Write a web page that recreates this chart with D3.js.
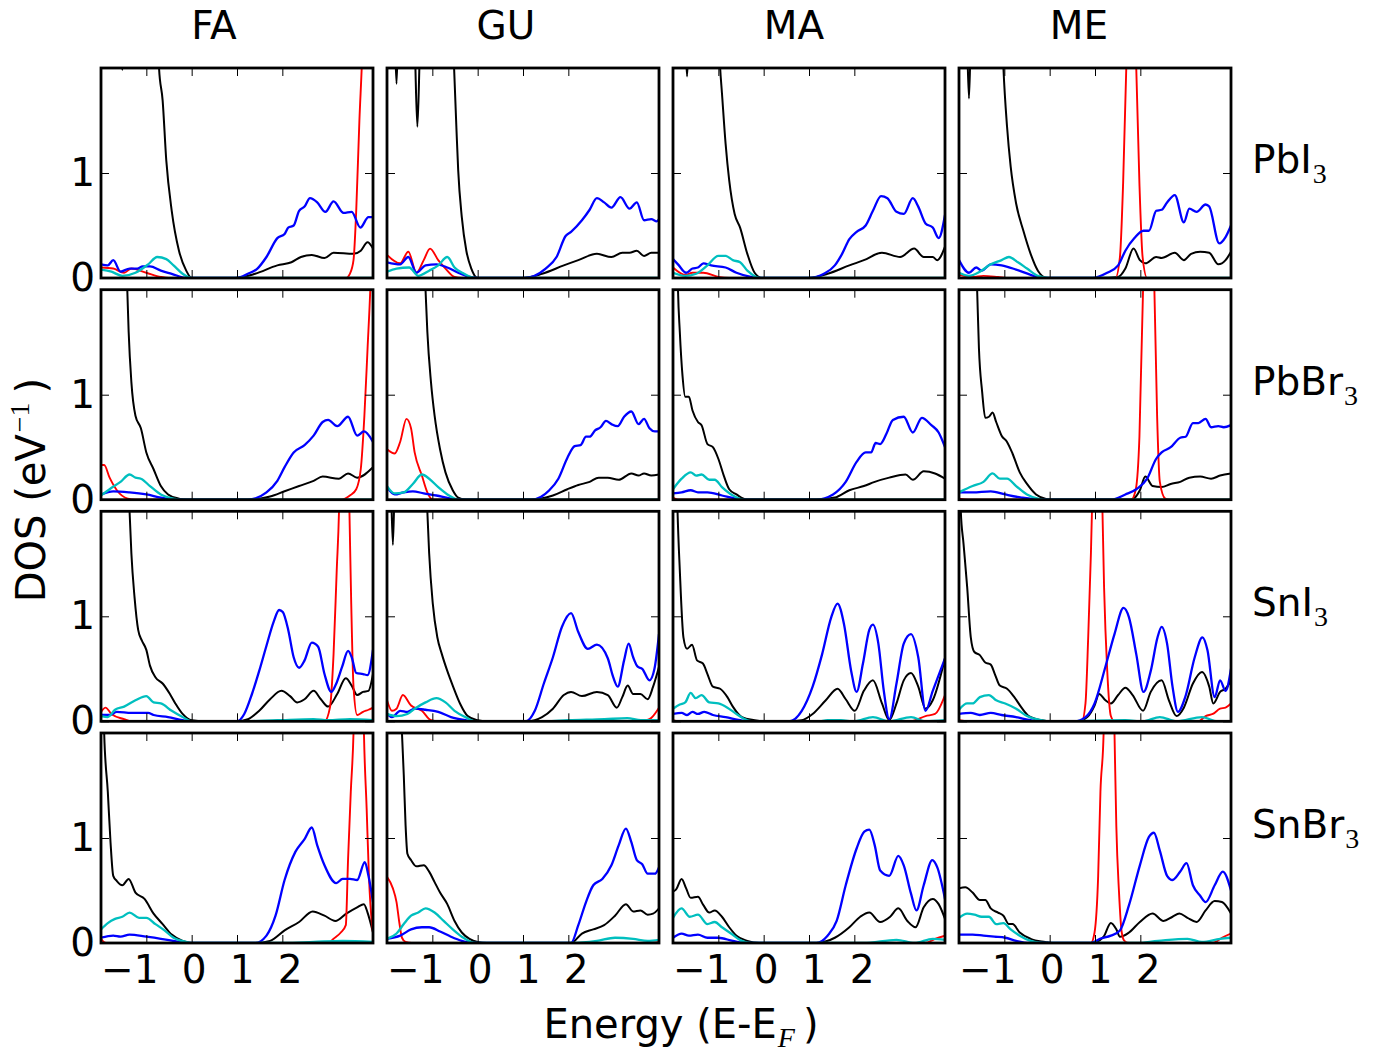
<!DOCTYPE html>
<html>
<head>
<meta charset="utf-8">
<script src="https://cdn.jsdelivr.net/npm/d3@7"></script>
<style>
  body { margin: 0; background: #fff; }
  text { font-family: "DejaVu Sans", sans-serif; }
</style>
</head>
<body>
<script>

// rows = compounds, columns = cations
var rowNames = ['PbI', 'PbBr', 'SnI', 'SnBr'],
  colNames = ['FA', 'GU', 'MA', 'ME'],
  xTicks = [-1, 0, 1, 2],
  yTicks = [0, 1]

// [energy, DOS] per curve; k = black, r = red, b = blue, c = cyan
var PbI3_FA_k = [[-2,3.5],[-1.6,2.6],[-1.53,1.98],[-1.46,2.6],[-0.8,3.0],[-0.72,2.0],[-0.64,1.69],[-0.56,1.12],[-0.44,0.64],[-0.28,0.26],[-0.12,0.07],[0,0],[0.95,0],[1.4,0.04],[1.89,0.12],[2.2,0.15],[2.41,0.2],[2.65,0.22],[2.93,0.19],[3.13,0.24],[3.57,0.23],[3.73,0.26],[3.88,0.34],[4,0.28]]
var PbI3_FA_b = [[-2,0.13],[-1.85,0.12],[-1.73,0.17],[-1.57,0.06],[-1.37,0.09],[-1.2,0.09],[-1.08,0.11],[-0.92,0.11],[-0.68,0.07],[-0.44,0.04],[-0.12,0],[1.0,0],[1.24,0.04],[1.45,0.09],[1.65,0.2],[1.89,0.38],[2.05,0.42],[2.13,0.48],[2.25,0.5],[2.37,0.64],[2.49,0.68],[2.61,0.76],[2.77,0.72],[2.95,0.63],[3.13,0.73],[3.35,0.62],[3.53,0.63],[3.72,0.48],[3.9,0.58],[4,0.58]]
var PbI3_FA_c = [[-2,0.08],[-1.77,0.06],[-1.53,0.02],[-1.24,0.05],[-0.96,0.13],[-0.76,0.2],[-0.56,0.18],[-0.4,0.12],[-0.2,0.04],[0,0],[4,0]]
var PbI3_FA_r = [[-2,0.1],[-1.73,0.09],[-1.49,0.05],[-1.33,0.09],[-1.0,0.05],[-0.68,0.01],[-0.5,0],[3.4,0],[3.49,0.04],[3.57,0.17],[3.63,0.64],[3.7,1.5],[3.76,2.1],[3.85,3.5],[4,5]]

var PbI3_GU_k = [[-2,3.5],[-1.84,2.5],[-1.79,1.85],[-1.74,2.5],[-1.4,2.3],[-1.33,1.44],[-1.26,2.3],[-0.6,3.0],[-0.52,2.0],[-0.47,1.44],[-0.43,1.03],[-0.35,0.58],[-0.25,0.26],[-0.14,0.09],[0,0],[1.0,0],[1.42,0.04],[1.9,0.12],[2.22,0.17],[2.63,0.23],[2.95,0.2],[3.19,0.24],[3.35,0.24],[3.51,0.26],[3.67,0.21],[3.83,0.24],[4,0.24]]
var PbI3_GU_b = [[-2,0.15],[-1.71,0.13],[-1.53,0.2],[-1.35,0.05],[-1.15,0.12],[-0.91,0.13],[-0.67,0.1],[-0.43,0.05],[-0.18,0.01],[0,0],[1.02,0],[1.5,0.09],[1.74,0.2],[1.94,0.4],[2.06,0.44],[2.3,0.55],[2.47,0.65],[2.63,0.76],[2.79,0.72],[2.95,0.67],[3.15,0.77],[3.35,0.66],[3.51,0.72],[3.67,0.55],[3.83,0.56],[3.95,0.54],[4,0.56]]
var PbI3_GU_c = [[-2,0.06],[-1.79,0.09],[-1.51,0.1],[-1.31,0.02],[-1.07,0.07],[-0.87,0.12],[-0.67,0.2],[-0.51,0.1],[-0.3,0.04],[-0.06,0],[4,0]]
var PbI3_GU_r = [[-2,0.22],[-1.71,0.14],[-1.53,0.25],[-1.35,0.05],[-1.19,0.17],[-1.05,0.28],[-0.87,0.17],[-0.71,0.09],[-0.51,0.01],[-0.35,0],[4,0]]

var PbI3_MA_k = [[-2,3.5],[-1.74,2.4],[-1.69,1.92],[-1.64,2.4],[-1.05,3.0],[-0.96,2.0],[-0.92,1.76],[-0.84,1.28],[-0.76,0.93],[-0.64,0.61],[-0.52,0.48],[-0.36,0.23],[-0.2,0.05],[-0.04,0],[1.0,0],[1.41,0.04],[1.89,0.12],[2.21,0.17],[2.61,0.24],[3.01,0.2],[3.32,0.28],[3.53,0.2],[3.73,0.2],[3.83,0.17],[4,0.3]]
var PbI3_MA_b = [[-2,0.18],[-1.89,0.13],[-1.71,0.05],[-1.57,0.09],[-1.45,0.1],[-1.33,0.14],[-1.16,0.12],[-0.84,0.1],[-0.6,0.05],[-0.28,0.01],[-0.1,0],[1.0,0],[1.33,0.04],[1.57,0.12],[1.73,0.23],[1.89,0.37],[2.05,0.44],[2.25,0.5],[2.41,0.64],[2.59,0.78],[2.73,0.76],[2.93,0.63],[3.09,0.61],[3.29,0.76],[3.41,0.68],[3.57,0.52],[3.73,0.48],[3.86,0.38],[4,0.6]]
var PbI3_MA_c = [[-2,0.05],[-1.73,0.02],[-1.49,0.04],[-1.24,0.12],[-1.0,0.21],[-0.84,0.21],[-0.68,0.17],[-0.52,0.15],[-0.36,0.07],[-0.16,0.01],[-0.04,0],[4,0]]
var PbI3_MA_r = [[-2,0.1],[-1.73,0.03],[-1.57,0.05],[-1.33,0.05],[-1.0,0.01],[-0.76,0],[4,0]]

var PbI3_ME_k = [[-2,3.5],[-1.83,2.4],[-1.78,1.71],[-1.73,2.4],[-1.1,3.0],[-1.02,2.0],[-0.94,1.44],[-0.86,1.06],[-0.74,0.71],[-0.58,0.45],[-0.42,0.23],[-0.26,0.07],[-0.06,0],[1.11,0],[1.51,0.01],[1.67,0.09],[1.85,0.28],[1.99,0.17],[2.11,0.14],[2.35,0.2],[2.47,0.19],[2.76,0.24],[2.96,0.17],[3.12,0.23],[3.32,0.25],[3.52,0.24],[3.72,0.13],[3.88,0.17],[4,0.25]]
var PbI3_ME_b = [[-2,0.17],[-1.78,0.05],[-1.62,0.1],[-1.5,0.07],[-1.3,0.13],[-1.06,0.12],[-0.74,0.08],[-0.42,0.03],[-0.18,0],[0.95,0],[1.27,0.05],[1.51,0.12],[1.67,0.26],[1.87,0.38],[2.07,0.45],[2.19,0.45],[2.35,0.64],[2.47,0.65],[2.59,0.72],[2.76,0.79],[2.96,0.53],[3.08,0.66],[3.24,0.63],[3.44,0.7],[3.52,0.68],[3.74,0.33],[3.88,0.39],[4,0.5]]
var PbI3_ME_c = [[-2,0.05],[-1.78,0.02],[-1.54,0.06],[-1.3,0.13],[-1.06,0.17],[-0.9,0.2],[-0.7,0.15],[-0.5,0.09],[-0.26,0.02],[0,0],[4,0]]
var PbI3_ME_r = [[-2,0.03],[-1.7,0.01],[-1.46,0.02],[-1.14,0.01],[-0.9,0],[1.45,0],[1.55,0.2],[1.62,0.9],[1.69,2.0],[1.75,3.5],[1.8,4.2],[1.85,3.5],[1.91,2.0],[1.98,0.9],[2.05,0.2],[2.15,0],[4,0]]

var PbBr3_FA_k = [[-2,5],[-1.5,3.0],[-1.42,2.0],[-1.39,1.6],[-1.33,1.12],[-1.24,0.8],[-1.12,0.68],[-1.0,0.45],[-0.84,0.29],[-0.68,0.13],[-0.52,0.05],[-0.28,0.01],[-0.1,0],[1.24,0],[1.73,0.03],[2.05,0.08],[2.37,0.13],[2.69,0.18],[2.89,0.22],[3.25,0.2],[3.45,0.25],[3.65,0.21],[4,0.31]]
var PbBr3_FA_b = [[-2,0.05],[-1.73,0.08],[-1.37,0.07],[-1.0,0.05],[-0.68,0.02],[-0.36,0],[1.24,0],[1.65,0.07],[1.89,0.18],[2.05,0.31],[2.25,0.45],[2.49,0.52],[2.69,0.61],[2.89,0.74],[3.01,0.76],[3.21,0.7],[3.45,0.79],[3.65,0.61],[3.8,0.65],[4,0.55]]
var PbBr3_FA_c = [[-2,0.04],[-1.81,0.1],[-1.57,0.17],[-1.37,0.24],[-1.24,0.21],[-1.12,0.2],[-0.92,0.13],[-0.68,0.05],[-0.4,0.01],[-0.28,0],[4,0]]
var PbBr3_FA_r = [[-2,0.33],[-1.93,0.33],[-1.81,0.21],[-1.65,0.09],[-1.41,0.01],[-1.25,0],[3.3,0],[3.49,0.04],[3.63,0.1],[3.73,0.29],[3.81,0.8],[3.88,1.44],[3.94,2.0],[4,2.8]]

var PbBr3_GU_k = [[-2,5],[-1.25,3.0],[-1.15,2.0],[-1.11,1.6],[-1.03,1.12],[-0.95,0.8],[-0.83,0.48],[-0.71,0.26],[-0.55,0.09],[-0.43,0.02],[-0.25,0],[1.18,0],[1.66,0.04],[1.98,0.1],[2.22,0.14],[2.47,0.17],[2.67,0.21],[2.87,0.21],[3.11,0.19],[3.39,0.25],[3.55,0.23],[3.67,0.25],[3.83,0.23],[4,0.24]]
var PbBr3_GU_b = [[-2,0.12],[-1.83,0.05],[-1.63,0.07],[-1.43,0.08],[-1.19,0.06],[-0.91,0.04],[-0.59,0.01],[-0.4,0],[1.18,0],[1.58,0.09],[1.78,0.2],[1.98,0.4],[2.14,0.51],[2.27,0.52],[2.39,0.6],[2.47,0.6],[2.59,0.66],[2.71,0.69],[2.83,0.75],[2.95,0.72],[3.09,0.7],[3.23,0.79],[3.39,0.84],[3.55,0.72],[3.67,0.77],[3.79,0.68],[3.91,0.65],[4,0.65]]
var PbBr3_GU_c = [[-2,0.13],[-1.83,0.06],[-1.63,0.07],[-1.43,0.15],[-1.23,0.24],[-1.07,0.2],[-0.87,0.12],[-0.63,0.04],[-0.43,0],[4,0]]
var PbBr3_GU_r = [[-2,0.48],[-1.83,0.44],[-1.71,0.55],[-1.57,0.77],[-1.47,0.68],[-1.39,0.45],[-1.23,0.23],[-1.11,0.07],[-0.99,0],[4,0]]

var PbBr3_MA_k = [[-2,5],[-1.93,3.0],[-1.89,2.0],[-1.85,1.6],[-1.79,1.18],[-1.73,0.98],[-1.65,0.98],[-1.57,0.85],[-1.45,0.74],[-1.37,0.71],[-1.24,0.53],[-1.12,0.5],[-1.0,0.39],[-0.88,0.23],[-0.76,0.1],[-0.6,0.05],[-0.36,0],[1.16,0],[1.57,0.02],[1.89,0.09],[2.21,0.13],[2.45,0.17],[2.77,0.21],[3.13,0.24],[3.29,0.19],[3.53,0.27],[3.78,0.25],[4,0.2]]
var PbBr3_MA_b = [[-2,0.06],[-1.81,0.07],[-1.61,0.09],[-1.45,0.07],[-1.24,0.07],[-0.92,0.04],[-0.6,0.01],[-0.44,0],[1.16,0],[1.53,0.05],[1.81,0.17],[2.05,0.36],[2.25,0.45],[2.37,0.45],[2.47,0.54],[2.57,0.53],[2.71,0.63],[2.85,0.76],[3.09,0.79],[3.29,0.64],[3.49,0.78],[3.7,0.71],[3.86,0.64],[4,0.5]]
var PbBr3_MA_c = [[-2,0.1],[-1.81,0.2],[-1.61,0.26],[-1.49,0.23],[-1.37,0.24],[-1.2,0.19],[-1.08,0.19],[-0.92,0.12],[-0.68,0.04],[-0.44,0],[4,0]]
var PbBr3_MA_r = [[-2,0.02],[-1.89,0],[4,0]]

var PbBr3_ME_k = [[-2,5],[-1.68,3.0],[-1.6,2.0],[-1.56,1.44],[-1.49,1.03],[-1.42,0.78],[-1.34,0.79],[-1.26,0.83],[-1.18,0.74],[-1.06,0.61],[-0.94,0.55],[-0.82,0.44],[-0.66,0.26],[-0.5,0.15],[-0.3,0.05],[-0.1,0.01],[0,0],[1.79,0],[1.99,0.09],[2.11,0.22],[2.27,0.13],[2.47,0.12],[2.67,0.15],[2.88,0.17],[3.08,0.21],[3.32,0.22],[3.56,0.2],[3.76,0.23],[4,0.25]]
var PbBr3_ME_b = [[-2,0.07],[-1.7,0.07],[-1.3,0.08],[-0.98,0.05],[-0.62,0.02],[-0.18,0],[1.35,0],[1.67,0.05],[1.91,0.1],[2.15,0.2],[2.35,0.39],[2.47,0.45],[2.67,0.5],[2.88,0.59],[3.0,0.6],[3.16,0.73],[3.28,0.73],[3.44,0.77],[3.56,0.69],[3.72,0.7],[3.84,0.69],[4,0.71]]
var PbBr3_ME_c = [[-2,0.07],[-1.7,0.13],[-1.46,0.17],[-1.26,0.25],[-1.1,0.2],[-0.94,0.2],[-0.74,0.13],[-0.5,0.05],[-0.26,0.01],[-0.14,0],[4,0]]
var PbBr3_ME_r = [[-2,0.01],[-1.8,0],[1.8,0],[1.9,0.1],[1.98,0.6],[2.06,2.0],[2.12,3.5],[2.18,4.0],[2.25,3.5],[2.31,2.0],[2.37,0.8],[2.43,0.17],[2.55,0.01],[2.65,0],[4,0]]

var SnI3_FA_k = [[-2,5],[-1.45,3.0],[-1.37,2.0],[-1.33,1.6],[-1.26,1.18],[-1.18,0.87],[-1.1,0.77],[-1.0,0.68],[-0.92,0.53],[-0.8,0.42],[-0.64,0.36],[-0.48,0.26],[-0.36,0.17],[-0.2,0.07],[0,0.01],[0.28,0],[1.0,0],[1.24,0.02],[1.49,0.1],[1.73,0.21],[1.98,0.29],[2.17,0.24],[2.33,0.18],[2.49,0.21],[2.69,0.29],[2.85,0.21],[3.01,0.14],[3.21,0.26],[3.4,0.41],[3.53,0.34],[3.65,0.25],[3.78,0.28],[3.9,0.29],[4,0.45]]
var SnI3_FA_b = [[-2,0.06],[-1.81,0.06],[-1.65,0.09],[-1.33,0.08],[-0.96,0.08],[-0.84,0.06],[-0.52,0.04],[-0.2,0.01],[-0.05,0],[1.0,0],[1.16,0.07],[1.33,0.26],[1.49,0.48],[1.65,0.72],[1.81,0.95],[1.93,1.06],[2.01,1.04],[2.13,0.87],[2.25,0.61],[2.37,0.51],[2.49,0.58],[2.65,0.75],[2.79,0.71],[2.93,0.45],[3.08,0.28],[3.17,0.34],[3.32,0.52],[3.45,0.67],[3.53,0.61],[3.63,0.46],[3.78,0.45],[3.88,0.44],[4,0.68]]
var SnI3_FA_c = [[-2,0.05],[-1.85,0.04],[-1.69,0.11],[-1.49,0.14],[-1.24,0.2],[-1.0,0.24],[-0.84,0.18],[-0.68,0.17],[-0.44,0.1],[-0.2,0.04],[0,0],[1.08,0],[1.89,0.01],[2.69,0.02],[3.01,0.01],[3.49,0.02],[4,0.01]]
var SnI3_FA_r = [[-2,0.09],[-1.9,0.13],[-1.77,0.07],[-1.49,0.02],[-1.33,0],[2.93,0],[3.05,0.13],[3.13,0.64],[3.2,1.44],[3.25,2.0],[3.3,3.2],[3.36,3.8],[3.42,3.2],[3.48,2.0],[3.52,1.12],[3.57,0.33],[3.65,0.06],[3.78,0.09],[3.9,0.11],[4,0.13]]

var SnI3_GU_k = [[-2,3.5],[-1.92,2.4],[-1.87,1.68],[-1.82,2.4],[-1.2,3.0],[-1.11,2.0],[-1.07,1.6],[-0.99,1.12],[-0.89,0.8],[-0.79,0.64],[-0.67,0.48],[-0.55,0.34],[-0.39,0.17],[-0.22,0.05],[0,0.01],[0.2,0],[1.1,0],[1.42,0.04],[1.66,0.12],[1.9,0.25],[2.06,0.28],[2.3,0.24],[2.63,0.28],[2.87,0.25],[3.07,0.13],[3.19,0.23],[3.31,0.34],[3.43,0.26],[3.59,0.26],[3.75,0.21],[3.87,0.33],[4,0.52]]
var SnI3_GU_b = [[-2,0.07],[-1.89,0.04],[-1.71,0.1],[-1.55,0.09],[-1.39,0.12],[-1.15,0.11],[-0.87,0.09],[-0.59,0.04],[-0.27,0.01],[-0.1,0],[1.06,0],[1.26,0.1],[1.46,0.36],[1.66,0.61],[1.86,0.9],[2.06,1.03],[2.22,0.85],[2.43,0.69],[2.63,0.73],[2.87,0.6],[2.99,0.42],[3.09,0.33],[3.23,0.58],[3.33,0.74],[3.43,0.61],[3.53,0.52],[3.63,0.5],[3.79,0.39],[3.9,0.5],[4,0.83]]
var SnI3_GU_c = [[-2,0.07],[-1.79,0.05],[-1.55,0.07],[-1.39,0.12],[-1.15,0.18],[-0.91,0.22],[-0.71,0.18],[-0.51,0.1],[-0.27,0.04],[-0.05,0],[1.5,0],[2.0,0.01],[2.8,0.02],[3.3,0.03],[3.6,0.01],[4,0.01]]
var SnI3_GU_r = [[-2,0.2],[-1.89,0.1],[-1.79,0.12],[-1.65,0.25],[-1.47,0.15],[-1.23,0.1],[-1.03,0.01],[-0.87,0],[3.6,0],[3.79,0.02],[4,0.13]]

var SnI3_MA_k = [[-2,5],[-1.95,3.0],[-1.9,2.0],[-1.85,1.44],[-1.77,0.8],[-1.69,0.69],[-1.58,0.73],[-1.47,0.58],[-1.34,0.55],[-1.24,0.45],[-1.12,0.33],[-0.96,0.31],[-0.8,0.23],[-0.68,0.14],[-0.48,0.04],[-0.2,0.01],[-0.04,0],[0.56,0],[0.84,0.01],[1.08,0.07],[1.37,0.2],[1.63,0.31],[1.81,0.21],[2.01,0.1],[2.21,0.29],[2.41,0.39],[2.61,0.17],[2.77,0.01],[2.93,0.17],[3.09,0.39],[3.25,0.46],[3.41,0.33],[3.57,0.12],[3.73,0.2],[4,0.6]]
var SnI3_MA_b = [[-2,0.07],[-1.81,0.08],[-1.69,0.06],[-1.57,0.09],[-1.45,0.07],[-1.31,0.09],[-1.12,0.06],[-0.84,0.04],[-0.52,0.01],[-0.36,0],[0.56,0],[0.84,0.1],[1.08,0.33],[1.29,0.64],[1.49,0.99],[1.63,1.12],[1.77,0.93],[1.93,0.48],[2.05,0.28],[2.19,0.55],[2.33,0.87],[2.41,0.92],[2.53,0.74],[2.65,0.29],[2.77,0.02],[2.93,0.36],[3.09,0.74],[3.25,0.83],[3.41,0.61],[3.57,0.1],[3.73,0.29],[4,0.6]]
var SnI3_MA_c = [[-2,0.12],[-1.85,0.16],[-1.73,0.18],[-1.61,0.27],[-1.5,0.22],[-1.37,0.25],[-1.2,0.18],[-1.0,0.17],[-0.8,0.13],[-0.6,0.07],[-0.36,0.01],[-0.2,0],[1.2,0],[1.41,0.01],[1.7,0.01],[2.0,0],[2.41,0.04],[2.77,0],[3.25,0.04],[3.57,0],[4,0.01]]
var SnI3_MA_r = [[-2,0.01],[-1.89,0],[3.25,0],[3.57,0.05],[3.78,0.07],[4,0.25]]

var SnI3_ME_k = [[-2,3.5],[-1.96,2.0],[-1.9,1.69],[-1.82,1.28],[-1.74,0.8],[-1.66,0.66],[-1.54,0.63],[-1.42,0.56],[-1.3,0.54],[-1.21,0.45],[-1.1,0.34],[-0.94,0.31],[-0.78,0.23],[-0.62,0.13],[-0.46,0.05],[-0.18,0.01],[0,0],[0.63,0],[0.83,0.04],[0.99,0.15],[1.09,0.26],[1.23,0.2],[1.35,0.17],[1.51,0.25],[1.67,0.32],[1.83,0.25],[2.06,0.1],[2.23,0.28],[2.47,0.39],[2.63,0.2],[2.8,0.05],[2.96,0.13],[3.16,0.36],[3.36,0.47],[3.52,0.33],[3.61,0.17],[3.76,0.28],[3.88,0.31],[4,0.39]]
var SnI3_ME_b = [[-2,0.07],[-1.74,0.08],[-1.54,0.06],[-1.3,0.08],[-1.06,0.06],[-0.74,0.04],[-0.42,0.01],[-0.2,0],[0.55,0],[0.79,0.04],[0.99,0.17],[1.23,0.52],[1.43,0.83],[1.63,1.08],[1.75,0.99],[1.91,0.64],[2.07,0.28],[2.23,0.48],[2.38,0.8],[2.47,0.9],[2.59,0.74],[2.71,0.33],[2.83,0.09],[2.99,0.23],[3.2,0.61],[3.37,0.8],[3.48,0.68],[3.64,0.23],[3.76,0.39],[3.88,0.29],[4,0.5]]
var SnI3_ME_c = [[-2,0.11],[-1.82,0.17],[-1.7,0.17],[-1.54,0.23],[-1.34,0.25],[-1.18,0.2],[-0.98,0.17],[-0.74,0.12],[-0.5,0.05],[-0.18,0.01],[0,0],[1.67,0.01],[2.06,0],[2.43,0.04],[2.8,0],[3.36,0.04],[3.7,0],[4,0]]
var SnI3_ME_r = [[-2,0.01],[-1.8,0],[0.71,0],[0.79,0.17],[0.85,0.8],[0.91,1.6],[0.95,2.3],[1.0,3.5],[1.05,3.8],[1.1,3.5],[1.15,2.3],[1.2,1.28],[1.27,0.48],[1.35,0.05],[1.43,0],[3.28,0],[3.44,0.05],[3.6,0.07],[3.76,0.12],[3.88,0.13],[4,0.17]]

var SnBr3_FA_k = [[-2,5],[-1.93,2.0],[-1.85,1.44],[-1.79,0.96],[-1.73,0.64],[-1.65,0.59],[-1.53,0.55],[-1.39,0.61],[-1.24,0.48],[-1.04,0.42],[-0.84,0.28],[-0.64,0.18],[-0.44,0.08],[-0.2,0.02],[0,0],[1.41,0],[1.73,0.02],[2.05,0.12],[2.37,0.2],[2.67,0.3],[2.93,0.26],[3.17,0.21],[3.41,0.28],[3.65,0.34],[3.8,0.37],[3.88,0.29],[4,0.1]]
var SnBr3_FA_b = [[-2,0.05],[-1.73,0.07],[-1.57,0.06],[-1.37,0.08],[-1.0,0.06],[-0.68,0.04],[-0.28,0.01],[-0.1,0],[1.41,0],[1.65,0.07],[1.85,0.26],[2.05,0.6],[2.29,0.87],[2.49,0.99],[2.65,1.1],[2.77,0.93],[2.93,0.74],[3.19,0.57],[3.33,0.61],[3.49,0.61],[3.65,0.6],[3.82,0.77],[3.9,0.64],[4,0.39]]
var SnBr3_FA_c = [[-2,0.13],[-1.85,0.19],[-1.69,0.23],[-1.53,0.25],[-1.37,0.29],[-1.16,0.24],[-1.0,0.24],[-0.8,0.18],[-0.6,0.12],[-0.4,0.05],[-0.12,0.01],[0,0],[2.05,0],[2.69,0.01],[3.33,0.02],[4,0.01]]
var SnBr3_FA_r = [[-2,0.04],[-1.89,0],[3.01,0],[3.13,0.04],[3.29,0.1],[3.4,0.17],[3.45,0.8],[3.51,1.44],[3.57,2.0],[3.63,3.3],[3.69,3.8],[3.75,3.3],[3.8,2.0],[3.86,1.28],[3.91,0.64],[3.98,0.17],[4,0.1]]

var SnBr3_GU_k = [[-2,5],[-1.75,3.0],[-1.67,2.0],[-1.63,1.6],[-1.59,1.12],[-1.55,0.85],[-1.47,0.79],[-1.35,0.73],[-1.19,0.74],[-1.07,0.68],[-0.95,0.58],[-0.83,0.48],[-0.67,0.37],[-0.51,0.21],[-0.35,0.1],[-0.18,0.04],[0,0.01],[0.2,0],[2.06,0],[2.3,0.09],[2.55,0.13],[2.79,0.17],[3.03,0.26],[3.27,0.37],[3.43,0.3],[3.59,0.31],[3.75,0.27],[3.87,0.28],[4,0.33]]
var SnBr3_GU_b = [[-2,0.04],[-1.71,0.07],[-1.47,0.13],[-1.23,0.15],[-1.07,0.15],[-0.83,0.11],[-0.59,0.06],[-0.35,0.02],[-0.1,0],[2.06,0],[2.22,0.17],[2.39,0.39],[2.55,0.55],[2.75,0.61],[2.95,0.74],[3.11,0.93],[3.27,1.09],[3.39,0.96],[3.51,0.79],[3.63,0.75],[3.75,0.66],[3.91,0.66],[4,0.72]]
var SnBr3_GU_c = [[-2,0.04],[-1.79,0.09],[-1.63,0.18],[-1.47,0.26],[-1.31,0.29],[-1.15,0.33],[-0.95,0.29],[-0.75,0.21],[-0.55,0.13],[-0.35,0.06],[-0.05,0],[2.06,0],[2.63,0.02],[3.03,0.05],[3.43,0.04],[3.75,0.02],[4,0.03]]
var SnBr3_GU_r = [[-2,0.63],[-1.87,0.52],[-1.79,0.39],[-1.73,0.2],[-1.67,0.05],[-1.59,0.01],[-1.45,0],[3.75,0],[4,0.01]]

var SnBr3_MA_k = [[-2,0.49],[-1.93,0.51],[-1.81,0.61],[-1.71,0.52],[-1.61,0.43],[-1.45,0.44],[-1.33,0.36],[-1.2,0.29],[-1.08,0.31],[-0.92,0.25],[-0.76,0.15],[-0.6,0.07],[-0.36,0.02],[-0.1,0],[1.16,0],[1.57,0.05],[1.89,0.15],[2.13,0.25],[2.33,0.29],[2.57,0.2],[2.79,0.25],[2.97,0.33],[3.17,0.21],[3.35,0.15],[3.53,0.34],[3.73,0.42],[3.86,0.37],[4,0.23]]
var SnBr3_MA_b = [[-2,0.05],[-1.81,0.09],[-1.65,0.07],[-1.45,0.08],[-1.24,0.05],[-1.0,0.05],[-0.68,0.02],[-0.36,0],[1.16,0],[1.41,0.07],[1.61,0.21],[1.81,0.55],[2.05,0.9],[2.22,1.06],[2.33,1.08],[2.45,0.93],[2.57,0.69],[2.77,0.64],[2.97,0.83],[3.09,0.74],[3.25,0.47],[3.37,0.31],[3.53,0.55],[3.72,0.79],[3.83,0.72],[4,0.42]]
var SnBr3_MA_c = [[-2,0.24],[-1.81,0.33],[-1.63,0.25],[-1.45,0.27],[-1.24,0.18],[-1.08,0.2],[-0.92,0.15],[-0.72,0.09],[-0.48,0.02],[-0.3,0],[2.21,0],[2.93,0.03],[3.33,0],[3.73,0.04],[4,0.03]]
var SnBr3_MA_r = [[-2,0],[3.57,0],[3.78,0.04],[4,0.07]]

var SnBr3_ME_k = [[-2,0.52],[-1.86,0.53],[-1.7,0.48],[-1.54,0.41],[-1.42,0.41],[-1.3,0.33],[-1.14,0.29],[-1.02,0.26],[-0.9,0.18],[-0.82,0.18],[-0.66,0.1],[-0.42,0.04],[-0.1,0.01],[0.05,0],[0.95,0],[1.19,0.06],[1.35,0.19],[1.47,0.13],[1.55,0.06],[1.75,0.1],[1.99,0.2],[2.27,0.28],[2.51,0.21],[2.71,0.25],[2.86,0.28],[3.04,0.24],[3.24,0.2],[3.44,0.31],[3.64,0.4],[3.8,0.39],[4,0.28]]
var SnBr3_ME_b = [[-2,0.08],[-1.7,0.08],[-1.46,0.07],[-1.22,0.06],[-0.98,0.05],[-0.74,0.02],[-0.45,0],[0.91,0],[1.11,0.04],[1.35,0.07],[1.55,0.12],[1.75,0.36],[1.99,0.74],[2.19,1.01],[2.3,1.05],[2.43,0.88],[2.59,0.64],[2.71,0.6],[2.88,0.68],[3.02,0.76],[3.16,0.55],[3.32,0.45],[3.44,0.39],[3.64,0.55],[3.82,0.68],[4,0.5]]
var SnBr3_ME_c = [[-2,0.24],[-1.82,0.28],[-1.66,0.27],[-1.5,0.25],[-1.34,0.25],[-1.18,0.18],[-1.02,0.19],[-0.86,0.13],[-0.66,0.07],[-0.42,0.02],[-0.15,0],[1.9,0],[2.39,0.02],[3.04,0.04],[3.36,0.01],[3.76,0.04],[4,0.05]]
var SnBr3_ME_r = [[-2,0],[0.91,0],[0.99,0.1],[1.07,0.64],[1.12,1.44],[1.19,2.0],[1.24,3.3],[1.3,3.8],[1.36,3.3],[1.43,2.0],[1.47,1.12],[1.53,0.48],[1.59,0.1],[1.65,0.02],[1.75,0],[3.6,0],[3.8,0.05],[4,0.09]]

// table of panels, curves in drawing order: black, red, blue, cyan
var grid = [
  [[PbI3_FA_k, PbI3_FA_r, PbI3_FA_b, PbI3_FA_c], [PbI3_GU_k, PbI3_GU_r, PbI3_GU_b, PbI3_GU_c], [PbI3_MA_k, PbI3_MA_r, PbI3_MA_b, PbI3_MA_c], [PbI3_ME_k, PbI3_ME_r, PbI3_ME_b, PbI3_ME_c]],
  [[PbBr3_FA_k, PbBr3_FA_r, PbBr3_FA_b, PbBr3_FA_c], [PbBr3_GU_k, PbBr3_GU_r, PbBr3_GU_b, PbBr3_GU_c], [PbBr3_MA_k, PbBr3_MA_r, PbBr3_MA_b, PbBr3_MA_c], [PbBr3_ME_k, PbBr3_ME_r, PbBr3_ME_b, PbBr3_ME_c]],
  [[SnI3_FA_k, SnI3_FA_r, SnI3_FA_b, SnI3_FA_c], [SnI3_GU_k, SnI3_GU_r, SnI3_GU_b, SnI3_GU_c], [SnI3_MA_k, SnI3_MA_r, SnI3_MA_b, SnI3_MA_c], [SnI3_ME_k, SnI3_ME_r, SnI3_ME_b, SnI3_ME_c]],
  [[SnBr3_FA_k, SnBr3_FA_r, SnBr3_FA_b, SnBr3_FA_c], [SnBr3_GU_k, SnBr3_GU_r, SnBr3_GU_b, SnBr3_GU_c], [SnBr3_MA_k, SnBr3_MA_r, SnBr3_MA_b, SnBr3_MA_c], [SnBr3_ME_k, SnBr3_ME_r, SnBr3_ME_b, SnBr3_ME_c]]
]

var curveColors = ['#000000', '#ff0000', '#0000ff', '#00bfbf'],
  curveWidths = [2, 1.9, 2.3, 2.3]

// layout
var colLeft = [101, 387, 673, 959],
  rowTop = [68, 289.7, 511.3, 733],
  panelW = 272,
  panelH = 210,
  titleX = [214, 506, 794, 1079]

var svg = d3.select('body').append('svg')
  .attr('width', 1384)
  .attr('height', 1053)

svg.append('rect').attr('width', 1384).attr('height', 1053).attr('fill', '#fff')

var xScale = d3.scaleLinear().domain([-2, 4]).range([0, panelW])
var yScale = d3.scaleLinear().domain([0, 2]).range([panelH, 0])
// tick labels sit on a slightly wider spacing than the ticks in the original
var xLabelScale = d3.scaleLinear().domain([0, 1]).range([93, 141])

var lineGenerator = d3.line()
  .x(function(d) { return xScale(d[0]) })
  .y(function(d) { return yScale(d[1]) })
  .curve(d3.curveMonotoneX)

svg.append('defs').append('clipPath').attr('id', 'panelClip')
  .append('rect').attr('width', panelW).attr('height', panelH)

grid.forEach(function(row, i) {
  row.forEach(function(curves, j) {
    var g = svg.append('g')
      .attr('transform', 'translate(' + colLeft[j] + ',' + rowTop[i] + ')')

    g.append('g').attr('clip-path', 'url(#panelClip)')
      .selectAll('path')
      .data(curves)
      .join('path')
      .attr('d', lineGenerator)
      .attr('fill', 'none')
      .attr('stroke', function(d, k) { return curveColors[k] })
      .attr('stroke-width', function(d, k) { return curveWidths[k] })
      .attr('stroke-linejoin', 'round')

    // inward ticks on all four sides
    g.append('g').attr('transform', 'translate(0,' + panelH + ')')
      .call(d3.axisBottom(xScale).tickValues(xTicks).tickSize(-8).tickFormat(''))
    g.append('g').call(d3.axisTop(xScale).tickValues(xTicks).tickSize(-8).tickFormat(''))
    var left = g.append('g')
      .call(d3.axisLeft(yScale).tickValues(yTicks).tickSize(-8).tickPadding(6)
        .tickFormat(j == 0 ? d3.format('d') : ''))
    g.append('g').attr('transform', 'translate(' + panelW + ',0)')
      .call(d3.axisRight(yScale).tickValues(yTicks).tickSize(-8).tickFormat(''))

    g.selectAll('.domain').remove()
    g.selectAll('.tick line').attr('stroke', '#000').attr('stroke-width', 1)
    left.selectAll('text').attr('font-size', 39).attr('font-family', 'DejaVu Sans').attr('fill', '#000')

    if (i == 3) {
      var lab = g.append('g').attr('transform', 'translate(0,' + panelH + ')')
        .call(d3.axisBottom(xLabelScale).tickValues(xTicks).tickSize(0).tickPadding(0)
          .tickFormat(function(d) { return d < 0 ? '\u2212' + (-d) : d }))
      lab.select('.domain').remove()
      lab.selectAll('text')
        .attr('font-size', 39).attr('font-family', 'DejaVu Sans').attr('fill', '#000')
        .attr('text-anchor', 'end').attr('dx', 12).attr('dy', 0).attr('y', 40)
    }

    g.append('rect')
      .attr('width', panelW).attr('height', panelH)
      .attr('fill', 'none').attr('stroke', '#000').attr('stroke-width', 2.8)
  })
})

// column titles
svg.selectAll('.coltitle')
  .data(colNames)
  .join('text')
  .attr('class', 'coltitle')
  .attr('x', function(d, j) { return titleX[j] })
  .attr('y', 39)
  .attr('text-anchor', 'middle')
  .attr('font-size', 39)
  .text(function(d) { return d })

// row labels with serif subscript
var rowLab = svg.selectAll('.rowlab')
  .data(rowNames)
  .join('text')
  .attr('class', 'rowlab')
  .attr('x', 1252)
  .attr('y', function(d, i) { return rowTop[i] + panelH / 2 })
  .attr('font-size', 39)
rowLab.append('tspan').text(function(d) { return d })
rowLab.append('tspan').text('3')
  .attr('font-family', 'Liberation Serif, DejaVu Serif, serif')
  .attr('font-size', 28).attr('dx', 1).attr('dy', 10)

// axis titles
var yLab = svg.append('text')
  .attr('transform', 'translate(45,490) rotate(-90)')
  .attr('text-anchor', 'middle')
  .attr('font-size', 40)
yLab.append('tspan').text('DOS (eV')
yLab.append('tspan').text('\u22121')
  .attr('font-family', 'Liberation Serif, DejaVu Serif, serif')
  .attr('font-size', 28).attr('dx', 2).attr('dy', -16)
yLab.append('tspan').text(')').attr('dx', 9).attr('dy', 16)

var xLab = svg.append('text')
  .attr('x', 681).attr('y', 1038)
  .attr('text-anchor', 'middle')
  .attr('font-size', 40)
xLab.append('tspan').text('Energy (E-E')
xLab.append('tspan').text('F')
  .attr('font-family', 'Liberation Serif, DejaVu Serif, serif')
  .attr('font-style', 'italic')
  .attr('font-size', 28).attr('dx', 1).attr('dy', 9)
xLab.append('tspan').text(')').attr('dx', 8).attr('dy', -9)

</script>
</body>
</html>
